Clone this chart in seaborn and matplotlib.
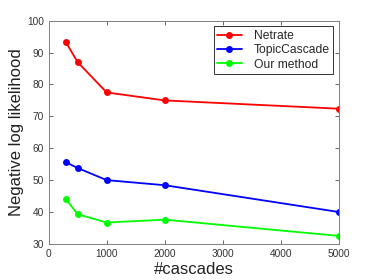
import pandas as pd
import seaborn as sns
import matplotlib.pyplot as plt

cascades = [300, 500, 1000, 2000, 5000]
netrate = [93.2, 87.0, 77.5, 75.0, 72.4]
topic_cascade = [55.6, 53.8, 50.0, 48.4, 40.0]
our_method = [44.0, 39.3, 36.7, 37.6, 32.5]
methods = ["Netrate", "TopicCascade", "Our method"]
x_ticks = [0, 1000, 2000, 3000, 4000, 5000]
y_ticks = [30, 40, 50, 60, 70, 80, 90, 100]

rows = []
for name, vals in zip(methods, [netrate, topic_cascade, our_method]):
    for c, v in zip(cascades, vals):
        rows.append({"cascades": c, "nll": v, "method": name})
df = pd.DataFrame(rows)

sns.set_style("ticks")
plt.rcParams["font.family"] = ["Liberation Sans", "DejaVu Sans"]

fig = plt.figure(figsize=(3.74, 2.8), dpi=100)
ax = fig.add_axes([0.130, 0.129, 0.776, 0.797])
palette = {"Netrate": "#ff0000", "TopicCascade": "#0000ff", "Our method": "#00ff00"}
sns.lineplot(data=df, x="cascades", y="nll", hue="method", hue_order=methods,
             palette=palette, marker="o", markersize=5, markeredgewidth=0,
             linewidth=1.3, ax=ax)

ax.set_xlim(0, 5000)
ax.set_ylim(30, 100)
ax.set_xticks(x_ticks)
ax.set_yticks(y_ticks)
ax.tick_params(direction="in", top=True, right=True, length=3, width=0.6,
               labelsize=7.3, colors="#4d4d4d", labelcolor="#333333")
for s in ax.spines.values():
    s.set_color("#808080")
    s.set_linewidth(0.7)
ax.set_xlabel("#cascades", fontsize=12, labelpad=2, color="#222222")
ax.set_ylabel("Negative log likelihood", fontsize=12, labelpad=2, color="#222222")

leg = ax.legend(loc="upper right", fontsize=8.7, fancybox=False, framealpha=1,
                edgecolor="#333333", borderaxespad=0.45, handlelength=2.0,
                labelspacing=0.2, borderpad=0.3, handletextpad=1.0)
leg.get_frame().set_linewidth(0.7)

fig.savefig("out.png", dpi=100)
